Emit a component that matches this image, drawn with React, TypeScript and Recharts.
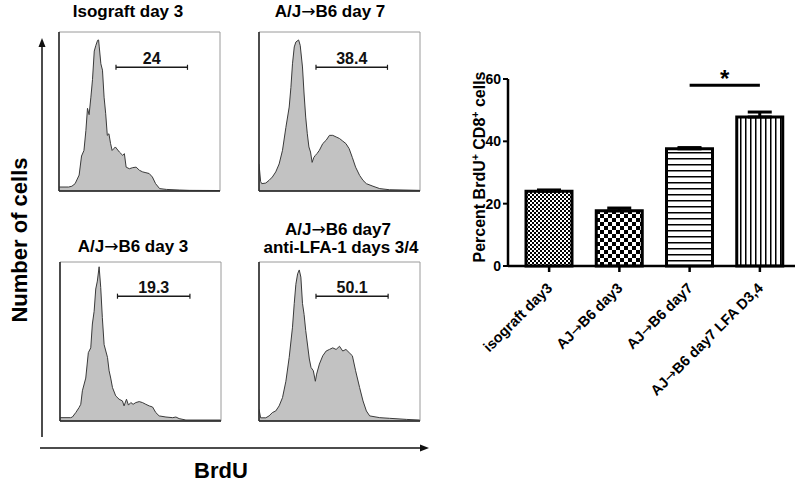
import React from "react";
import {
  AreaChart,
  Area,
  XAxis,
  YAxis,
  ReferenceLine,
  BarChart,
  Bar,
  Cell,
  ErrorBar,
} from "recharts";

const FONT = "Arial, 'Liberation Sans', Helvetica, sans-serif";
const ARROW_FONT = "'DejaVu Sans', sans-serif";

// BrdU histograms: channel on a 4-decade log axis scaled 0-100, count as % of panel max
const isoDay3Channel = [0, 6, 8, 10, 12.5, 14, 15.5, 16.7, 17.7, 18.7, 19.8, 20.8, 21.9, 22.9, 24, 24.6, 25, 26, 27, 28, 29, 30, 31, 32, 33, 34, 35, 37.5, 39.6, 40.6, 41.7, 43.7, 45.8, 47.9, 50, 52, 54, 56, 58, 60, 62.5, 66.7, 75, 81, 100];
const isoDay3Count = [2.5, 2.5, 3, 4.6, 10, 22, 25.5, 38, 52, 48, 59, 70, 88, 91.6, 94.8, 95, 90.6, 80, 76, 59, 48.6, 35, 36, 30, 25.5, 26.6, 27.7, 24.5, 22.4, 23.5, 15, 14, 14.7, 15, 13, 12, 11.5, 11, 8.8, 4.6, 1.5, 1, 0.6, 0.4, 0.3];

const ajDay7Channel = [0, 1, 1.7, 4.2, 6.25, 8.3, 10.4, 12.5, 14.6, 16.7, 18.75, 19.8, 20.8, 21.9, 22.9, 24.6, 25.6, 27, 28, 29, 30, 31, 32, 33, 34, 35, 36, 37.5, 39.6, 41.7, 43.75, 45.8, 47.9, 50, 52, 54, 56, 58, 60, 62.5, 64.6, 66.7, 70.8, 75, 81, 100];
const ajDay7Count = [17, 6, 4.6, 5, 6.7, 8.8, 12, 17, 25.6, 40, 52.8, 65, 80, 90.6, 93.7, 95, 91.6, 78, 61, 46.5, 36, 27.7, 24.5, 18, 21, 22.4, 23.5, 25.6, 29.8, 31.9, 35, 35, 34, 33, 31.4, 29.8, 26.6, 21, 15, 9.8, 6.7, 4.6, 3, 1.5, 0.8, 0.4];

const ajDay3Channel = [0, 6.6, 7.7, 9.8, 11.8, 12.9, 13.9, 16, 17.6, 19.1, 20.1, 21.2, 22.2, 23.2, 24.3, 25.3, 26.3, 27.4, 29.5, 30.5, 31.5, 32.6, 34.6, 36.7, 38.8, 39.8, 41.3, 42.5, 44, 45.4, 47.1, 49.2, 51.2, 53.3, 55.4, 57.5, 59.5, 61.6, 65.8, 70, 72, 74, 78.2, 100];
const ajDay3Count = [2.1, 2.1, 2.5, 5.3, 8.4, 10.5, 19, 27, 43, 46, 61, 69, 83, 88, 97, 84, 65, 48, 40, 31.6, 27, 21, 15.8, 13.7, 12.6, 9.5, 13.7, 10, 11.6, 10.5, 11.6, 12.2, 11.6, 10.5, 9.5, 8.8, 5.3, 3.2, 2.5, 2.1, 2.5, 1.5, 0.6, 0.6];

const lfaChannel = [0, 1, 4.2, 6.25, 8.3, 10.4, 12.5, 14.6, 16.7, 18.75, 20.8, 21.9, 22.9, 24, 25, 26, 27, 28, 29, 31.25, 32.3, 33.75, 35, 35.8, 37.5, 39.6, 41.7, 43.75, 45.8, 47.9, 50, 52, 54, 56, 58, 60, 62.5, 64.6, 66.7, 68.75, 75, 81, 91.7, 100];
const lfaCount = [7.4, 2, 2, 3.2, 5.3, 6.3, 9.5, 14.7, 25, 40, 59, 74, 86, 92.6, 95, 90.5, 74, 67, 57, 39, 33.7, 31.6, 25, 29.5, 35.8, 41, 44, 45, 46, 45, 47, 44, 45, 43, 41, 31.6, 21, 12.6, 6.3, 3.2, 2.1, 1.7, 1, 0.6];

// BrdU+ gate per panel (same order as above)
const gateStart = [35.4, 35.4, 35.7, 35.4];
const gateEnd = [79.8, 79.8, 80.7, 80.2];
const gateLevel = [77.8, 77.8, 78.5, 78.5];
const gatePercent = ["24", "38.4", "19.3", "50.1"];

const countTicks = [0, 18.2, 36.4, 54.6, 72.8, 91];
const channelTicks = [0, 25, 50, 75]
  .flatMap((d) => [1, 2, 3, 4, 5, 6, 7, 8, 9].map((k) => d + 25 * Math.log10(k)))
  .concat(100);

// bar chart
const groups = ["isograft day3", "AJ→B6 day3", "AJ→B6 day7", "AJ→B6 day7 LFA D3,4"];
const percentBrdU = [24.0, 17.7, 37.6, 47.8];
const semBrdU = [0.4, 0.9, 0.4, 1.6];
const percentTicks = [0, 20, 40, 60];
const patternIds = ["pFine", "pChecker", "pHoriz", "pVert"];
const sigLevel = 58;

// split text on the arrow so the arrow can come from a font that draws it full size
function withArrow(s: string) {
  const parts = s.split("→");
  return parts.map((p, i) => (
    <React.Fragment key={i}>
      {i > 0 && (
        <tspan fontFamily={ARROW_FONT} fontWeight="normal">
          →
        </tspan>
      )}
      {p && <tspan>{p}</tspan>}
    </React.Fragment>
  ));
}

type HistProps = {
  left: number;
  top: number;
  channel: number[];
  count: number[];
  gate: number;
};

function Histogram({ left, top, channel, count, gate }: HistProps) {
  const data = channel.map((c, i) => ({ channel: c, count: count[i] }));
  const lo = gateStart[gate];
  const hi = gateEnd[gate];
  const lvl = gateLevel[gate];
  return (
    <div style={{ position: "absolute", left: left - 20, top: top - 10 }}>
      <AreaChart
        width={200}
        height={189}
        data={data}
        margin={{ top: 10, right: 20, bottom: 16, left: 19 }}
      >
        <XAxis
          type="number"
          dataKey="channel"
          domain={[0, 100]}
          ticks={channelTicks}
          interval={0}
          tick={false}
          tickSize={3}
          height={4}
          axisLine={{ stroke: "#333", strokeWidth: 1.2 }}
          tickLine={{ stroke: "#555", strokeWidth: 0.8 }}
          allowDataOverflow
        />
        <YAxis
          type="number"
          domain={[0, 100]}
          ticks={countTicks}
          interval={0}
          tick={false}
          tickSize={3}
          width={1}
          mirror
          axisLine={{ stroke: "#333", strokeWidth: 1.2 }}
          tickLine={{ stroke: "#555", strokeWidth: 0.8 }}
          allowDataOverflow
        />
        <ReferenceLine y={100} stroke="#9a9a9a" />
        <ReferenceLine x={100} stroke="#9a9a9a" />
        <Area
          type="linear"
          dataKey="count"
          stroke="#3a3a3a"
          strokeWidth={1}
          fill="#c2c2c2"
          fillOpacity={1}
          isAnimationActive={false}
        />
        <ReferenceLine x={0} stroke="#2a2a2a" strokeWidth={1.3} />
        <ReferenceLine y={0} stroke="#2a2a2a" strokeWidth={1.3} />
        <ReferenceLine
          segment={[
            { x: lo, y: lvl },
            { x: hi, y: lvl },
          ]}
          stroke="#1a1a1a"
          strokeWidth={1.6}
          label={{
            value: gatePercent[gate],
            position: "top",
            offset: 3,
            fill: "#111",
            fontSize: 16,
            fontWeight: "bold",
            fontFamily: FONT,
          }}
        />
        <ReferenceLine
          segment={[
            { x: lo, y: lvl - 1.6 },
            { x: lo, y: lvl + 1.6 },
          ]}
          stroke="#1a1a1a"
          strokeWidth={1.2}
        />
        <ReferenceLine
          segment={[
            { x: hi, y: lvl - 1.6 },
            { x: hi, y: lvl + 1.6 },
          ]}
          stroke="#1a1a1a"
          strokeWidth={1.2}
        />
      </AreaChart>
    </div>
  );
}

function SlantTick(props: any) {
  const { x, y, payload } = props;
  return (
    <g transform={`translate(${x + 4},${y + 15})`}>
      <text
        x={0}
        y={0}
        transform="rotate(-45)"
        textAnchor="end"
        fill="#000"
        fontSize={14.5}
        fontWeight="bold"
        fontFamily={FONT}
      >
        {withArrow(String(payload.value))}
      </text>
    </g>
  );
}

export default function App() {
  const barData = groups.map((g, i) => ({
    group: g,
    percent: percentBrdU[i],
    err: [0, semBrdU[i]],
  }));

  const bold = { fontFamily: FONT, fontWeight: "bold" as const, fill: "#000" };

  return (
    <div
      style={{
        position: "absolute",
        left: 0,
        top: 0,
        width: 800,
        height: 482,
        background: "#fff",
        overflow: "hidden",
      }}
    >
      <Histogram left={60} top={32} channel={isoDay3Channel} count={isoDay3Count} gate={0} />
      <Histogram left={260} top={32} channel={ajDay7Channel} count={ajDay7Count} gate={1} />
      <Histogram left={61} top={262} channel={ajDay3Channel} count={ajDay3Count} gate={2} />
      <Histogram left={260} top={262} channel={lfaChannel} count={lfaCount} gate={3} />

      <div style={{ position: "absolute", left: 460, top: 50 }}>
        <BarChart
          width={340}
          height={380}
          data={barData}
          margin={{ top: 29, right: 5, bottom: 0, left: 0 }}
          barSize={46}
        >
          <defs>
            <pattern id="pFine" width="4" height="4" patternUnits="userSpaceOnUse">
              <rect width="4" height="4" fill="#fff" />
              <rect width="2" height="2" fill="#000" />
              <rect x="2" y="2" width="2" height="2" fill="#000" />
            </pattern>
            <pattern id="pChecker" width="8" height="8" patternUnits="userSpaceOnUse">
              <rect width="8" height="8" fill="#fff" />
              <rect width="4" height="4" fill="#000" />
              <rect x="4" y="4" width="4" height="4" fill="#000" />
            </pattern>
            <pattern id="pHoriz" width="6" height="6" patternUnits="userSpaceOnUse">
              <rect width="6" height="6" fill="#fff" />
              <rect width="6" height="1.5" fill="#000" />
            </pattern>
            <pattern id="pVert" width="5" height="5" patternUnits="userSpaceOnUse">
              <rect width="5" height="5" fill="#fff" />
              <rect width="1.5" height="5" fill="#000" />
            </pattern>
          </defs>
          <XAxis
            dataKey="group"
            type="category"
            height={164}
            interval={0}
            tick={<SlantTick />}
            tickSize={6}
            padding={{ left: 6, right: 0 }}
            axisLine={{ stroke: "#000", strokeWidth: 2.5 }}
            tickLine={{ stroke: "#000", strokeWidth: 2.5 }}
          />
          <YAxis
            type="number"
            domain={[0, 60]}
            ticks={percentTicks}
            interval={0}
            width={48}
            tickSize={5}
            axisLine={{ stroke: "#000", strokeWidth: 2.5 }}
            tickLine={{ stroke: "#000", strokeWidth: 2 }}
            tick={{ ...bold, fontSize: 14 }}
          />
          <Bar dataKey="percent" stroke="#000" strokeWidth={3} isAnimationActive={false}>
            {groups.map((g, i) => (
              <Cell key={g} fill={`url(#${patternIds[i]})`} />
            ))}
            <ErrorBar dataKey="err" width={12} stroke="#000" strokeWidth={3} direction="y" />
          </Bar>
          <ReferenceLine
            segment={[
              { x: groups[2], y: sigLevel },
              { x: groups[3], y: sigLevel },
            ]}
            stroke="#000"
            strokeWidth={3}
            label={{ value: "*", position: "top", offset: -2, ...bold, fontSize: 24 }}
          />
        </BarChart>
      </div>

      <svg
        width={800}
        height={482}
        style={{ position: "absolute", left: 0, top: 0, pointerEvents: "none" }}
      >
        <g stroke="#111" strokeWidth={1.5}>
          <line x1={42} y1={437} x2={42} y2={46} />
          <line x1={40} y1={448} x2={421} y2={448} />
        </g>
        <polygon points="38.5,47 42,38 45.5,47" fill="#111" />
        <polygon points="420,444.5 429,448 420,451.5" fill="#111" />

        <text x={27} y={240} transform="rotate(-90 27 240)" textAnchor="middle" fontSize={22} {...bold}>
          Number of cells
        </text>
        <text x={221} y={478} textAnchor="middle" fontSize={22} {...bold}>
          BrdU
        </text>

        <text x={128} y={17} textAnchor="middle" fontSize={17} {...bold}>
          Isograft day 3
        </text>
        <text x={330} y={17} textAnchor="middle" fontSize={17} {...bold}>
          {withArrow("A/J→B6 day 7")}
        </text>
        <text x={133} y={252} textAnchor="middle" fontSize={17} {...bold}>
          {withArrow("A/J→B6 day 3")}
        </text>
        <text x={338} y={235} textAnchor="middle" fontSize={17} {...bold}>
          {withArrow("A/J→B6 day7")}
        </text>
        <text x={341} y={253} textAnchor="middle" fontSize={17} {...bold}>
          anti-LFA-1 days 3/4
        </text>

        <text x={485} y={167} transform="rotate(-90 485 167)" textAnchor="middle" fontSize={16} {...bold}>
          Percent BrdU
          <tspan fontSize={10.5} dy={-6}>+</tspan>
          <tspan dy={6}> CD8</tspan>
          <tspan fontSize={10.5} dy={-6}>+</tspan>
          <tspan dy={6}> cells</tspan>
        </text>
      </svg>
    </div>
  );
}
